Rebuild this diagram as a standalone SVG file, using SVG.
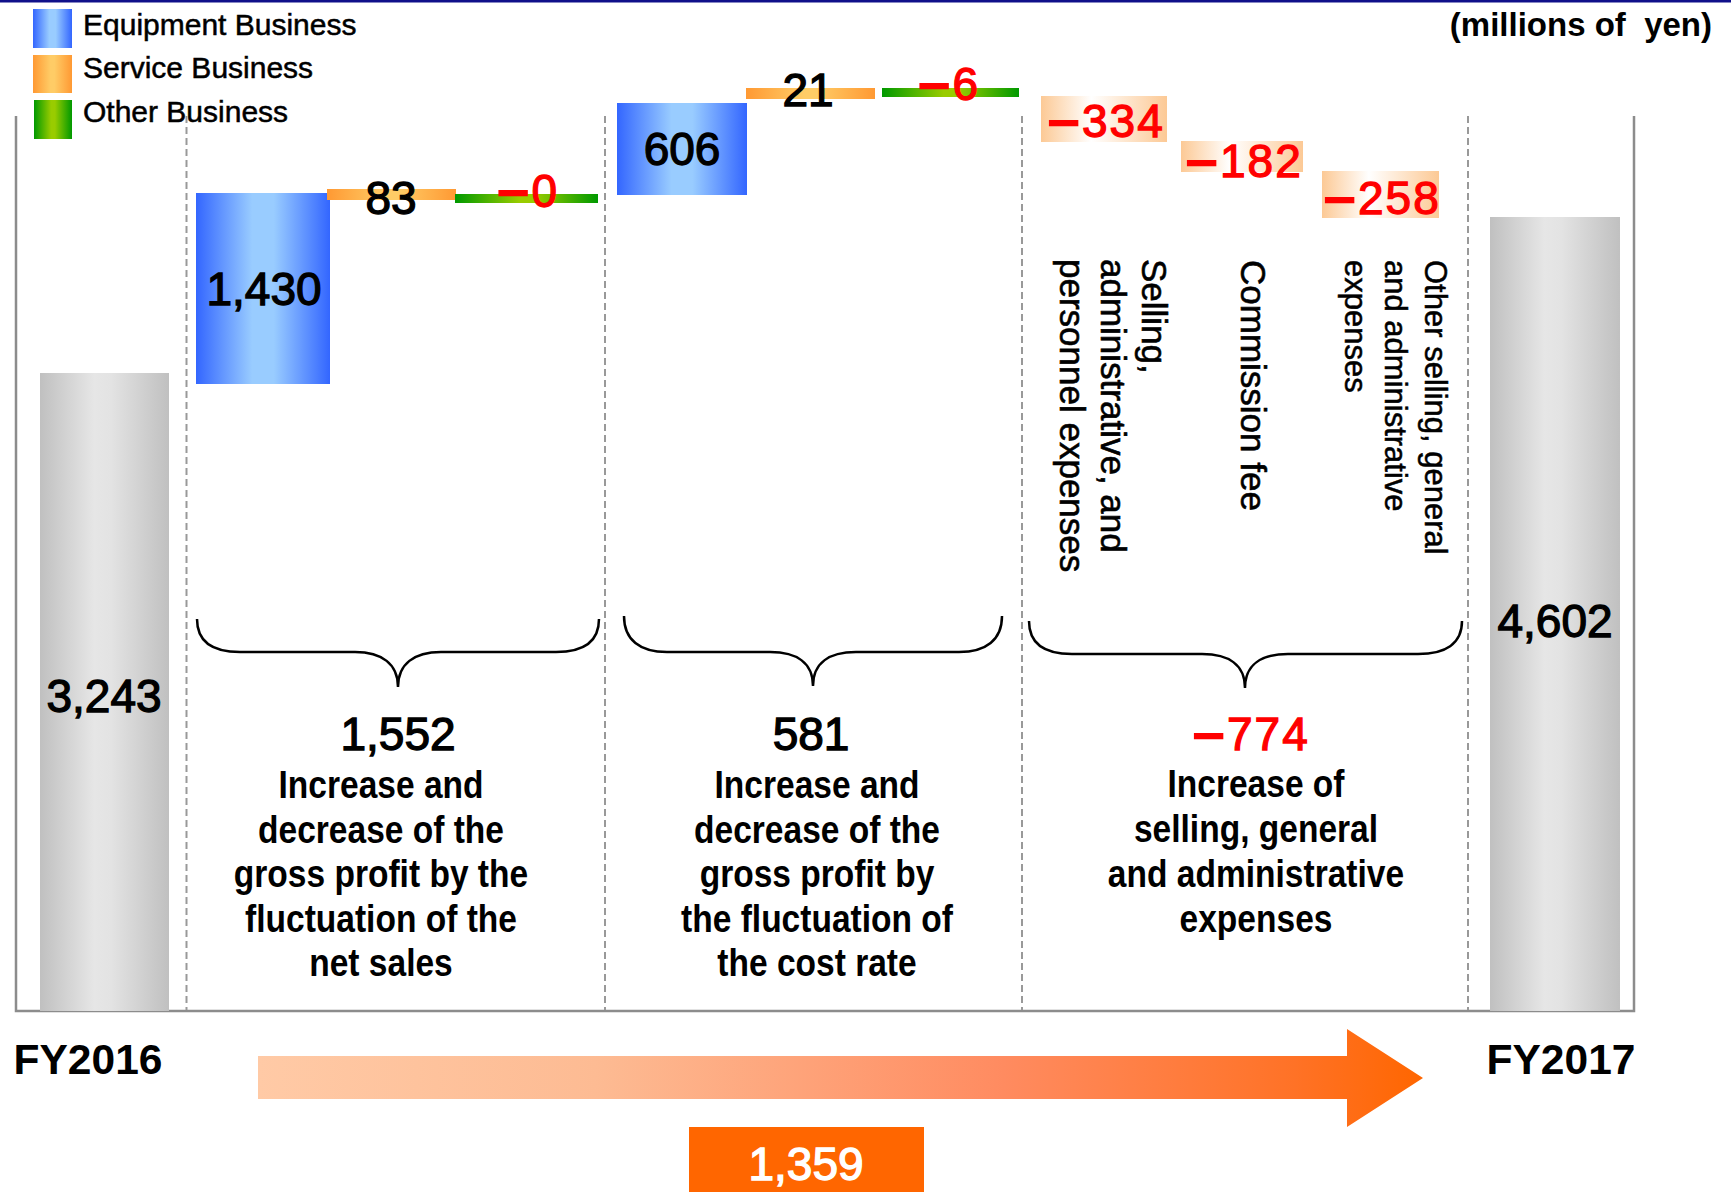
<svg xmlns="http://www.w3.org/2000/svg" width="1731" height="1192" viewBox="0 0 1731 1192">
<defs>
  <linearGradient id="gBlue" x1="0" y1="0" x2="1" y2="0">
    <stop offset="0" stop-color="#3366ff"/><stop offset="0.42" stop-color="#99ccff"/><stop offset="0.58" stop-color="#99ccff"/><stop offset="1" stop-color="#3366ff"/>
  </linearGradient>
  <linearGradient id="gOrange" x1="0" y1="0" x2="1" y2="0">
    <stop offset="0" stop-color="#ff9933"/><stop offset="0.45" stop-color="#ffcc66"/><stop offset="0.55" stop-color="#ffcc66"/><stop offset="1" stop-color="#ff9933"/>
  </linearGradient>
  <linearGradient id="gGreen" x1="0" y1="0" x2="1" y2="0">
    <stop offset="0" stop-color="#009900"/><stop offset="0.45" stop-color="#99cc00"/><stop offset="0.55" stop-color="#99cc00"/><stop offset="1" stop-color="#009900"/>
  </linearGradient>
  <linearGradient id="gGray" x1="0" y1="0" x2="1" y2="0">
    <stop offset="0" stop-color="#c0c0c0"/><stop offset="0.42" stop-color="#e6e6e6"/><stop offset="0.55" stop-color="#e3e3e3"/><stop offset="1" stop-color="#c0c0c0"/>
  </linearGradient>
  <linearGradient id="gPeach" x1="0" y1="0" x2="1" y2="0">
    <stop offset="0" stop-color="#fcc995"/><stop offset="0.4" stop-color="#ffffff"/><stop offset="1" stop-color="#fcc995"/>
  </linearGradient>
  <linearGradient id="gArrow" gradientUnits="userSpaceOnUse" x1="258" y1="0" x2="1423" y2="0">
    <stop offset="0" stop-color="#ffcaa6"/><stop offset="0.29" stop-color="#fdbb93"/><stop offset="0.64" stop-color="#ff8b60"/><stop offset="0.89" stop-color="#ff7226"/><stop offset="1" stop-color="#ff6600"/>
  </linearGradient>
</defs>
<style>
  text { font-family: 'Liberation Sans', Arial, sans-serif; }
  .num { font-size: 46px; text-anchor: middle; fill: #000; stroke: #000; stroke-width: 1.3; }
  .neg { fill: #ff0000; stroke: #ff0000; letter-spacing: 2px; }
  .mn { font-size: 56px; stroke-width: 2.2; }
  .wht { fill: #ffffff; stroke: #ffffff; }
  .lbl { font-weight: bold; font-size: 39px; text-anchor: middle; fill: #000; }
  .vt { font-size: 35px; fill: #000; stroke: #000; stroke-width: 0.6; }
  .vt2 { font-size: 31px; fill: #000; stroke: #000; stroke-width: 0.5; }
  .leg { font-size: 30px; fill: #000; stroke: #000; stroke-width: 0.5; }
  .fy { font-weight: bold; font-size: 42.5px; text-anchor: middle; fill: #000; }
  .axis { stroke: #8c8c8c; stroke-width: 2.5; fill: none; }
  .dash { stroke: #999999; stroke-width: 2; stroke-dasharray: 7 4; fill: none; }
  .brace { fill: none; stroke: #000; stroke-width: 2.5; }
</style>
<rect x="0" y="0" width="1731" height="1192" fill="#ffffff"/>
<rect x="0" y="0" width="1731" height="2.5" fill="#10108a"/>

<g id="legend">
  <rect x="33" y="9" width="39" height="39" fill="url(#gBlue)"/>
  <rect x="33" y="55" width="39" height="38" fill="url(#gOrange)"/>
  <rect x="34" y="100" width="38" height="39" fill="url(#gGreen)"/>
  <text class="leg" x="83" y="35">Equipment Business</text>
  <text class="leg" x="83" y="78">Service Business</text>
  <text class="leg" x="83" y="122">Other Business</text>
</g>
<g id="unit">
  <text x="1712" y="36" font-size="33" font-weight="bold" text-anchor="end">(millions of&#160;&#160;yen)</text>
</g>

<g id="frame">
  <polyline class="axis" points="16,116 16,1011 1634,1011 1634,116"/>
  <line class="dash" x1="186.5" y1="116" x2="186.5" y2="1010"/>
  <line class="dash" x1="605" y1="116" x2="605" y2="1010"/>
  <line class="dash" x1="1022" y1="116" x2="1022" y2="1010"/>
  <line class="dash" x1="1468" y1="116" x2="1468" y2="1010"/>
</g>

<g id="fy2016">
  <rect x="40" y="373" width="129" height="638" fill="url(#gGray)"/>
  <text class="num" x="104" y="712">3,243</text>
  <text class="fy" x="88" y="1074">FY2016</text>
</g>
<g id="fy2017">
  <rect x="1490" y="217" width="130" height="794" fill="url(#gGray)"/>
  <text class="num" x="1555" y="637">4,602</text>
  <text class="fy" x="1561" y="1074">FY2017</text>
</g>

<g id="sales-equipment">
  <rect x="196" y="193" width="134" height="191" fill="url(#gBlue)"/>
  <text class="num" x="264" y="305">1,430</text>
</g>
<g id="sales-service">
  <rect x="327" y="189" width="129" height="11" fill="url(#gOrange)"/>
  <text class="num" x="391" y="214">83</text>
</g>
<g id="sales-other">
  <rect x="455" y="194" width="143" height="9" fill="url(#gGreen)"/>
  <text class="num neg" x="528" y="207"><tspan class="mn" dy="5">−</tspan><tspan dy="-5">0</tspan></text>
</g>

<g id="cost-equipment">
  <rect x="617" y="103" width="130" height="92" fill="url(#gBlue)"/>
  <text class="num" x="682" y="165">606</text>
</g>
<g id="cost-service">
  <rect x="746" y="88" width="129" height="11" fill="url(#gOrange)"/>
  <text class="num" x="808" y="106">21</text>
</g>
<g id="cost-other">
  <rect x="882" y="88" width="137" height="9" fill="url(#gGreen)"/>
  <text class="num neg" x="949" y="100"><tspan class="mn" dy="5">−</tspan><tspan dy="-5">6</tspan></text>
</g>

<g id="sga-personnel">
  <rect x="1041" y="96" width="126" height="46" fill="url(#gPeach)"/>
  <text class="num neg" x="1106" y="137"><tspan class="mn" dy="5">−</tspan><tspan dy="-5">334</tspan></text>
  <g transform="translate(1142 259) rotate(90)">
    <text class="vt" x="0" y="0">Selling,</text>
    <text class="vt" x="0" y="41">administrative, and</text>
    <text class="vt" x="0" y="82">personnel expenses</text>
  </g>
</g>
<g id="sga-commission">
  <rect x="1181" y="141" width="122" height="31" fill="url(#gPeach)"/>
  <text class="num neg" x="1244" y="177"><tspan class="mn" dy="5">−</tspan><tspan dy="-5">182</tspan></text>
  <g transform="translate(1241 260) rotate(90)">
    <text class="vt" x="0" y="0">Commission fee</text>
  </g>
</g>
<g id="sga-other">
  <rect x="1322" y="171" width="117" height="47" fill="url(#gPeach)"/>
  <text class="num neg" x="1382" y="214"><tspan class="mn" dy="5">−</tspan><tspan dy="-5">258</tspan></text>
  <g transform="translate(1425 260) rotate(90)">
    <text class="vt2" x="0" y="0">Other selling, general</text>
    <text class="vt2" x="0" y="40">and administrative</text>
    <text class="vt2" x="0" y="80">expenses</text>
  </g>
</g>

<g id="connectors">
  <path class="brace" d="M197,619 C197,642 213,652 240,652 L355,652 C382,652 398,664 398,687 C398,664 414,652 441,652 L556,652 C583,652 599,642 599,619"/>
  <path class="brace" d="M624,616 C624,640 640,652 667,652 L770,652 C797,652 813,663 813,686 C813,663 829,652 856,652 L959,652 C986,652 1002,640 1002,616"/>
  <path class="brace" d="M1029,621 C1029,644 1045,654 1072,654 L1202,654 C1229,654 1245,665 1245,688 C1245,665 1261,654 1288,654 L1418,654 C1445,654 1462,644 1462,621"/>
  <polygon points="258,1056 1347,1056 1347,1029 1423,1078 1347,1127 1347,1099 258,1099" fill="url(#gArrow)"/>
</g>

<g id="summary-sales">
  <text class="num" x="398" y="750">1,552</text>
  <g transform="translate(381 0) scale(0.86 1)">
    <text class="lbl" x="0" y="798">Increase and</text>
    <text class="lbl" x="0" y="843">decrease of the</text>
    <text class="lbl" x="0" y="887">gross profit by the</text>
    <text class="lbl" x="0" y="932">fluctuation of the</text>
    <text class="lbl" x="0" y="976">net sales</text>
  </g>
</g>
<g id="summary-cost">
  <text class="num" x="811" y="750">581</text>
  <g transform="translate(817 0) scale(0.86 1)">
    <text class="lbl" x="0" y="798">Increase and</text>
    <text class="lbl" x="0" y="843">decrease of the</text>
    <text class="lbl" x="0" y="887">gross profit by</text>
    <text class="lbl" x="0" y="932">the fluctuation of</text>
    <text class="lbl" x="0" y="976">the cost rate</text>
  </g>
</g>
<g id="summary-sga">
  <text class="num neg" x="1251" y="750"><tspan class="mn" dy="5">−</tspan><tspan dy="-5">774</tspan></text>
  <g transform="translate(1256 0) scale(0.86 1)">
    <text class="lbl" x="0" y="797">Increase of</text>
    <text class="lbl" x="0" y="842">selling, general</text>
    <text class="lbl" x="0" y="887">and administrative</text>
    <text class="lbl" x="0" y="932">expenses</text>
  </g>
</g>

<g id="total">
  <rect x="689" y="1127" width="235" height="70" fill="#ff6600"/>
  <text class="num wht" x="806" y="1180">1,359</text>
</g>
</svg>
